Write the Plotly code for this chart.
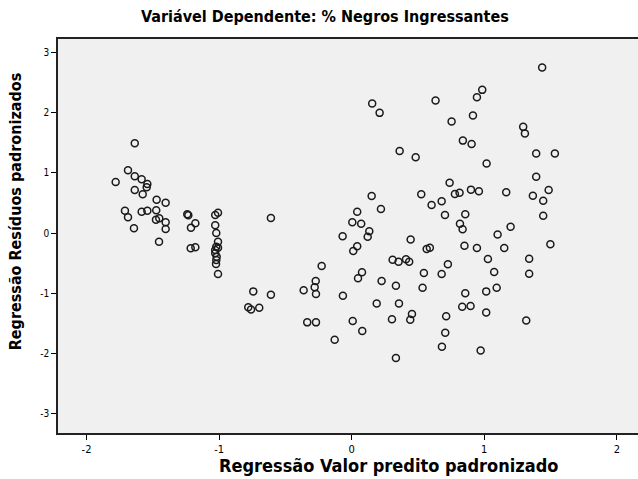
import plotly.graph_objects as go

# Standardized predicted values (x) and standardized residuals (y)
pred = [
    -1.636, -1.687, -1.780, -1.636, -1.584, -1.541, -1.546, -1.636, -1.576, -1.471,
    -1.403, -1.710, -1.687, -1.584, -1.541, -1.474, -1.476, -1.451, -1.403, -1.403,
    -1.642, -1.453, -1.240, -1.232, -1.179, -1.212, -1.214, -1.179,
    -1.008, -1.029, -1.029, -1.021, -1.008, -1.021, -1.008, -1.029, -1.029, -1.018,
    -1.021, -1.023, -1.008,
    -0.609, -0.742, -0.609, -0.780, -0.759, -0.697, -0.362, -0.271, -0.279, -0.269,
    -0.226, -0.335, -0.269, -0.128, -0.066, -0.068, 0.005, 0.072, 0.133, 0.121,
    0.042, 0.012, 0.078, 0.048, 0.226, 0.189, 0.008, 0.080, 0.304, 0.334,
    0.309, 0.354, 0.334, 0.357,
    0.155, 0.211, 0.633, 0.985, 0.945, 0.915, 0.754, 0.839, 0.905, 1.018,
    0.362, 0.483, 0.739, 0.779, 0.814, 0.900, 0.960, 0.525, 0.603, 0.679,
    0.704, 0.857, 0.817, 0.837, 0.151, 0.221, 0.042, 0.445, 0.566, 0.590,
    0.851, 0.945, 1.101,
    1.437, 1.294, 1.307, 1.392, 1.533, 1.392, 1.166, 1.367, 1.486, 1.445,
    1.445, 1.199, 1.499, 1.151,
    0.410, 0.434, 0.726, 1.028, 1.339, 0.545, 0.679, 1.075, 1.339, 0.535,
    0.857, 1.015, 1.094, 0.834, 0.897, 1.015, 1.317, 0.455, 0.442, 0.713,
    0.706, 0.681, 0.973,
]
resid = [
    1.495, 1.045, 0.850, 0.945, 0.895, 0.817, 0.762, 0.717, 0.645, 0.555,
    0.505, 0.372, 0.262, 0.355, 0.372, 0.378, 0.222, 0.245, 0.178, 0.067,
    0.078, -0.145, 0.312, 0.295, 0.162, 0.088, -0.255, -0.238,
    0.338, 0.300, 0.128, 0.000, -0.145, -0.228, -0.245, -0.283, -0.338, -0.395,
    -0.450, -0.517, -0.683,
    0.250, -0.972, -1.028, -1.238, -1.272, -1.245, -0.955, -0.800, -0.905, -1.017,
    -0.550, -1.488, -1.488, -1.778, -1.045, -0.055, 0.178, 0.155, 0.028, -0.062,
    -0.222, -0.300, -0.655, -0.755, -0.800, -1.172, -1.467, -1.633, -1.438, -2.083,
    -0.445, -0.478, -0.878, -1.172,
    2.155, 2.000, 2.205, 2.383, 2.262, 1.955, 1.855, 1.538, 1.483, 1.158,
    1.367, 1.262, 0.838, 0.650, 0.672, 0.722, 0.695, 0.645, 0.467, 0.528,
    0.300, 0.312, 0.155, 0.062, 0.617, 0.400, 0.355, -0.108, -0.267, -0.247,
    -0.213, -0.250, -0.025,
    2.755, 1.767, 1.655, 1.322, 1.322, 0.938, 0.678, 0.622, 0.717, 0.538,
    0.288, 0.103, -0.187, -0.250,
    -0.438, -0.478, -0.522, -0.433, -0.428, -0.667, -0.683, -0.650, -0.678, -0.912,
    -1.005, -0.972, -0.912, -1.228, -1.217, -1.322, -1.455, -1.350, -1.445, -1.388,
    -1.662, -1.895, -1.955,
]

y_tick_vals = [-3, -2, -1, 0, 1, 2, 3]
y_tick_text = ["-3", "-2", "-1", "0", "1", "2", "3"]
x_tick_vals = [-2, -1, 0, 1, 2]
x_tick_text = ["-2", "-1", "0", "1", "2"]

title_text = "Variável Dependente: % Negros Ingressantes"
x_title = "Regressão Valor predito padronizado"
y_title = "Regressão Resíduos padronizados"

FONT = "Liberation Sans Narrow, DejaVu Sans Condensed, Arial Narrow, sans-serif"

fig = go.Figure()
fig.add_trace(go.Scatter(
    x=pred, y=resid, mode="markers",
    marker=dict(symbol="circle-open", size=7, color="#1a1a1a", line=dict(width=1.5, color="#1a1a1a")),
    hoverinfo="x+y", showlegend=False,
))

fig.update_layout(
    width=638, height=479,
    margin=dict(l=58, r=0, t=39, b=46),
    paper_bgcolor="white",
    plot_bgcolor="#f0f0f0",
    font=dict(family=FONT, color="black"),
    xaxis=dict(
        range=[-2.215, 2.16], tickvals=x_tick_vals, ticktext=x_tick_text, ticks="outside",
        ticklen=5, tickwidth=1, tickcolor="black", showgrid=False, zeroline=False,
        showline=True, linecolor="#222", linewidth=1.5, mirror=True,
        tickfont=dict(size=11, family=FONT),
    ),
    yaxis=dict(
        range=[-3.33, 3.23], tickvals=y_tick_vals, ticktext=y_tick_text, ticks="outside",
        ticklen=5, tickwidth=1, tickcolor="black", showgrid=False, zeroline=False,
        showline=True, linecolor="#222", linewidth=1.5,
        tickfont=dict(size=10, family=FONT),
    ),
    annotations=[
        dict(text="<b>" + title_text + "</b>", xref="paper", yref="paper", x=0.460, y=1.056,
             xanchor="center", yanchor="middle", showarrow=False, font=dict(size=16, family=FONT)),
        dict(text="<b>" + x_title + "</b>", xref="paper", yref="paper", x=0.569, y=-0.083,
             xanchor="center", yanchor="middle", showarrow=False, font=dict(size=18, family=FONT)),
        dict(text="<b>" + y_title + "</b>", xref="paper", yref="paper", x=-0.074, y=0.563,
             xanchor="center", yanchor="middle", showarrow=False, textangle=-90,
             font=dict(size=16, family=FONT)),
    ],
)

fig.write_html("out.html", config={"displayModeBar": False},
               post_script="document.body.style.margin='0';")
